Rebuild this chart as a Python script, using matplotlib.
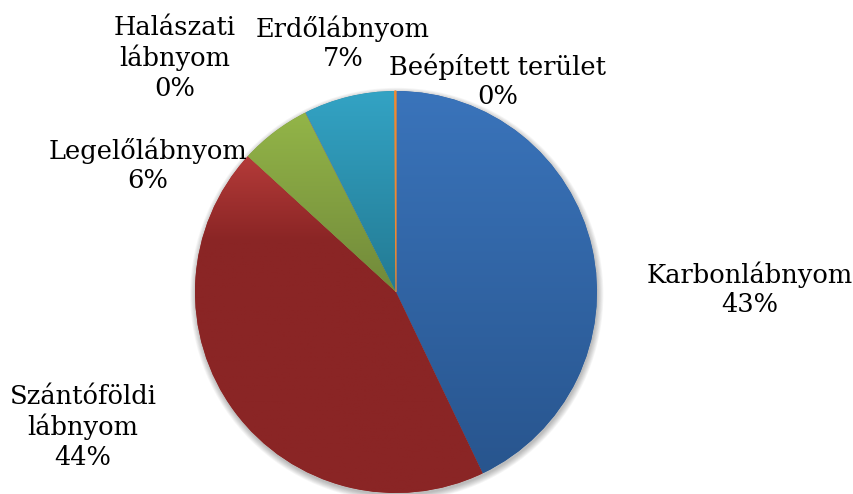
import numpy as np
import matplotlib
matplotlib.use('Agg')
import matplotlib.pyplot as plt
from matplotlib.colors import LinearSegmentedColormap

# adatok (Excel sorrend, 12 órától az óramutató járásával)
labels = ['Karbonlábnyom', 'Szántóföldi\nlábnyom', 'Legelőlábnyom',
          'Halászati\nlábnyom', 'Erdőlábnyom', 'Beépített terület']
values = [42.9, 43.9, 5.75, 0.03, 7.32, 0.1]

# színek: (világos felső, sötét alsó)
colors = [('#3a74bb', '#28558e'),
          ('#b43b39', '#8a2525'),
          ('#93b548', '#71893a'),
          ('#7b5fa0', '#5e4880'),
          ('#33a3c4', '#237a93'),
          ('#f08a30', '#d0701c')]
# mennyire gyorsan sötétedik a szelet felülről lefelé
dark_at = [1.0, 0.25, 1.0, 1.0, 1.0, 1.0]
# keskeny szelet körvonala, hogy látszódjon
edge_lw = [0, 0, 0, 0, 0, 0.9]

# címkék helye pixelben (középpont)
label_px = [(750, 289), (83, 427), (148, 165), (175, 58), (343, 43), (498, 81)]

W, H = 854, 494
cx, cy, r = 396, 292, 201

fig = plt.figure(figsize=(W / 100, H / 100), dpi=100)
ax = fig.add_axes([0, 0, 1, 1])
ax.axis('off')

# árnyék
for k in range(8):
    sh = plt.Circle((0.004, -0.012), 1.0 + 0.004 * k, color='black',
                    alpha=0.035, lw=0, zorder=0)
    ax.add_patch(sh)
ax.add_patch(plt.Circle((0, 0), 1.0, color='white', lw=0, zorder=0.5))

wedges, _ = ax.pie(values, startangle=90, counterclock=False, radius=1.0,
                   center=(0, 0), colors=[c[1] for c in colors],
                   wedgeprops=dict(linewidth=0, edgecolor='none'))

for w, (c1, c2), d, lw in zip(wedges, colors, dark_at, edge_lw):
    ext = w.get_path().transformed(w.get_patch_transform()).get_extents()
    cmap = LinearSegmentedColormap.from_list('g', [(0, c2), (1 - d, c2), (1, c1)])
    grad = np.linspace(0, 1, 256).reshape(-1, 1)
    im = ax.imshow(grad, cmap=cmap, origin='lower', aspect='auto',
                   extent=[ext.x0, ext.x1, ext.y0, ext.y1], zorder=2)
    im.set_clip_path(w)
    if lw > 0:
        w.set_facecolor(c1)
        w.set_edgecolor(c1)
        w.set_linewidth(lw)
        w.set_zorder(3)
    else:
        w.set_zorder(1)

ax.set_xlim(-cx / r, (W - cx) / r)
ax.set_ylim(-(H - cy) / r, cy / r)
ax.set_aspect('auto')

for lab, v, (px, py) in zip(labels, values, label_px):
    fig.text(px / W, 1 - py / H, f'{lab}\n{round(v):.0f}%', ha='center', va='center',
             fontsize=18.5, family='DejaVu Serif', linespacing=1.22, color='black')

fig.savefig('out.png', dpi=100)
